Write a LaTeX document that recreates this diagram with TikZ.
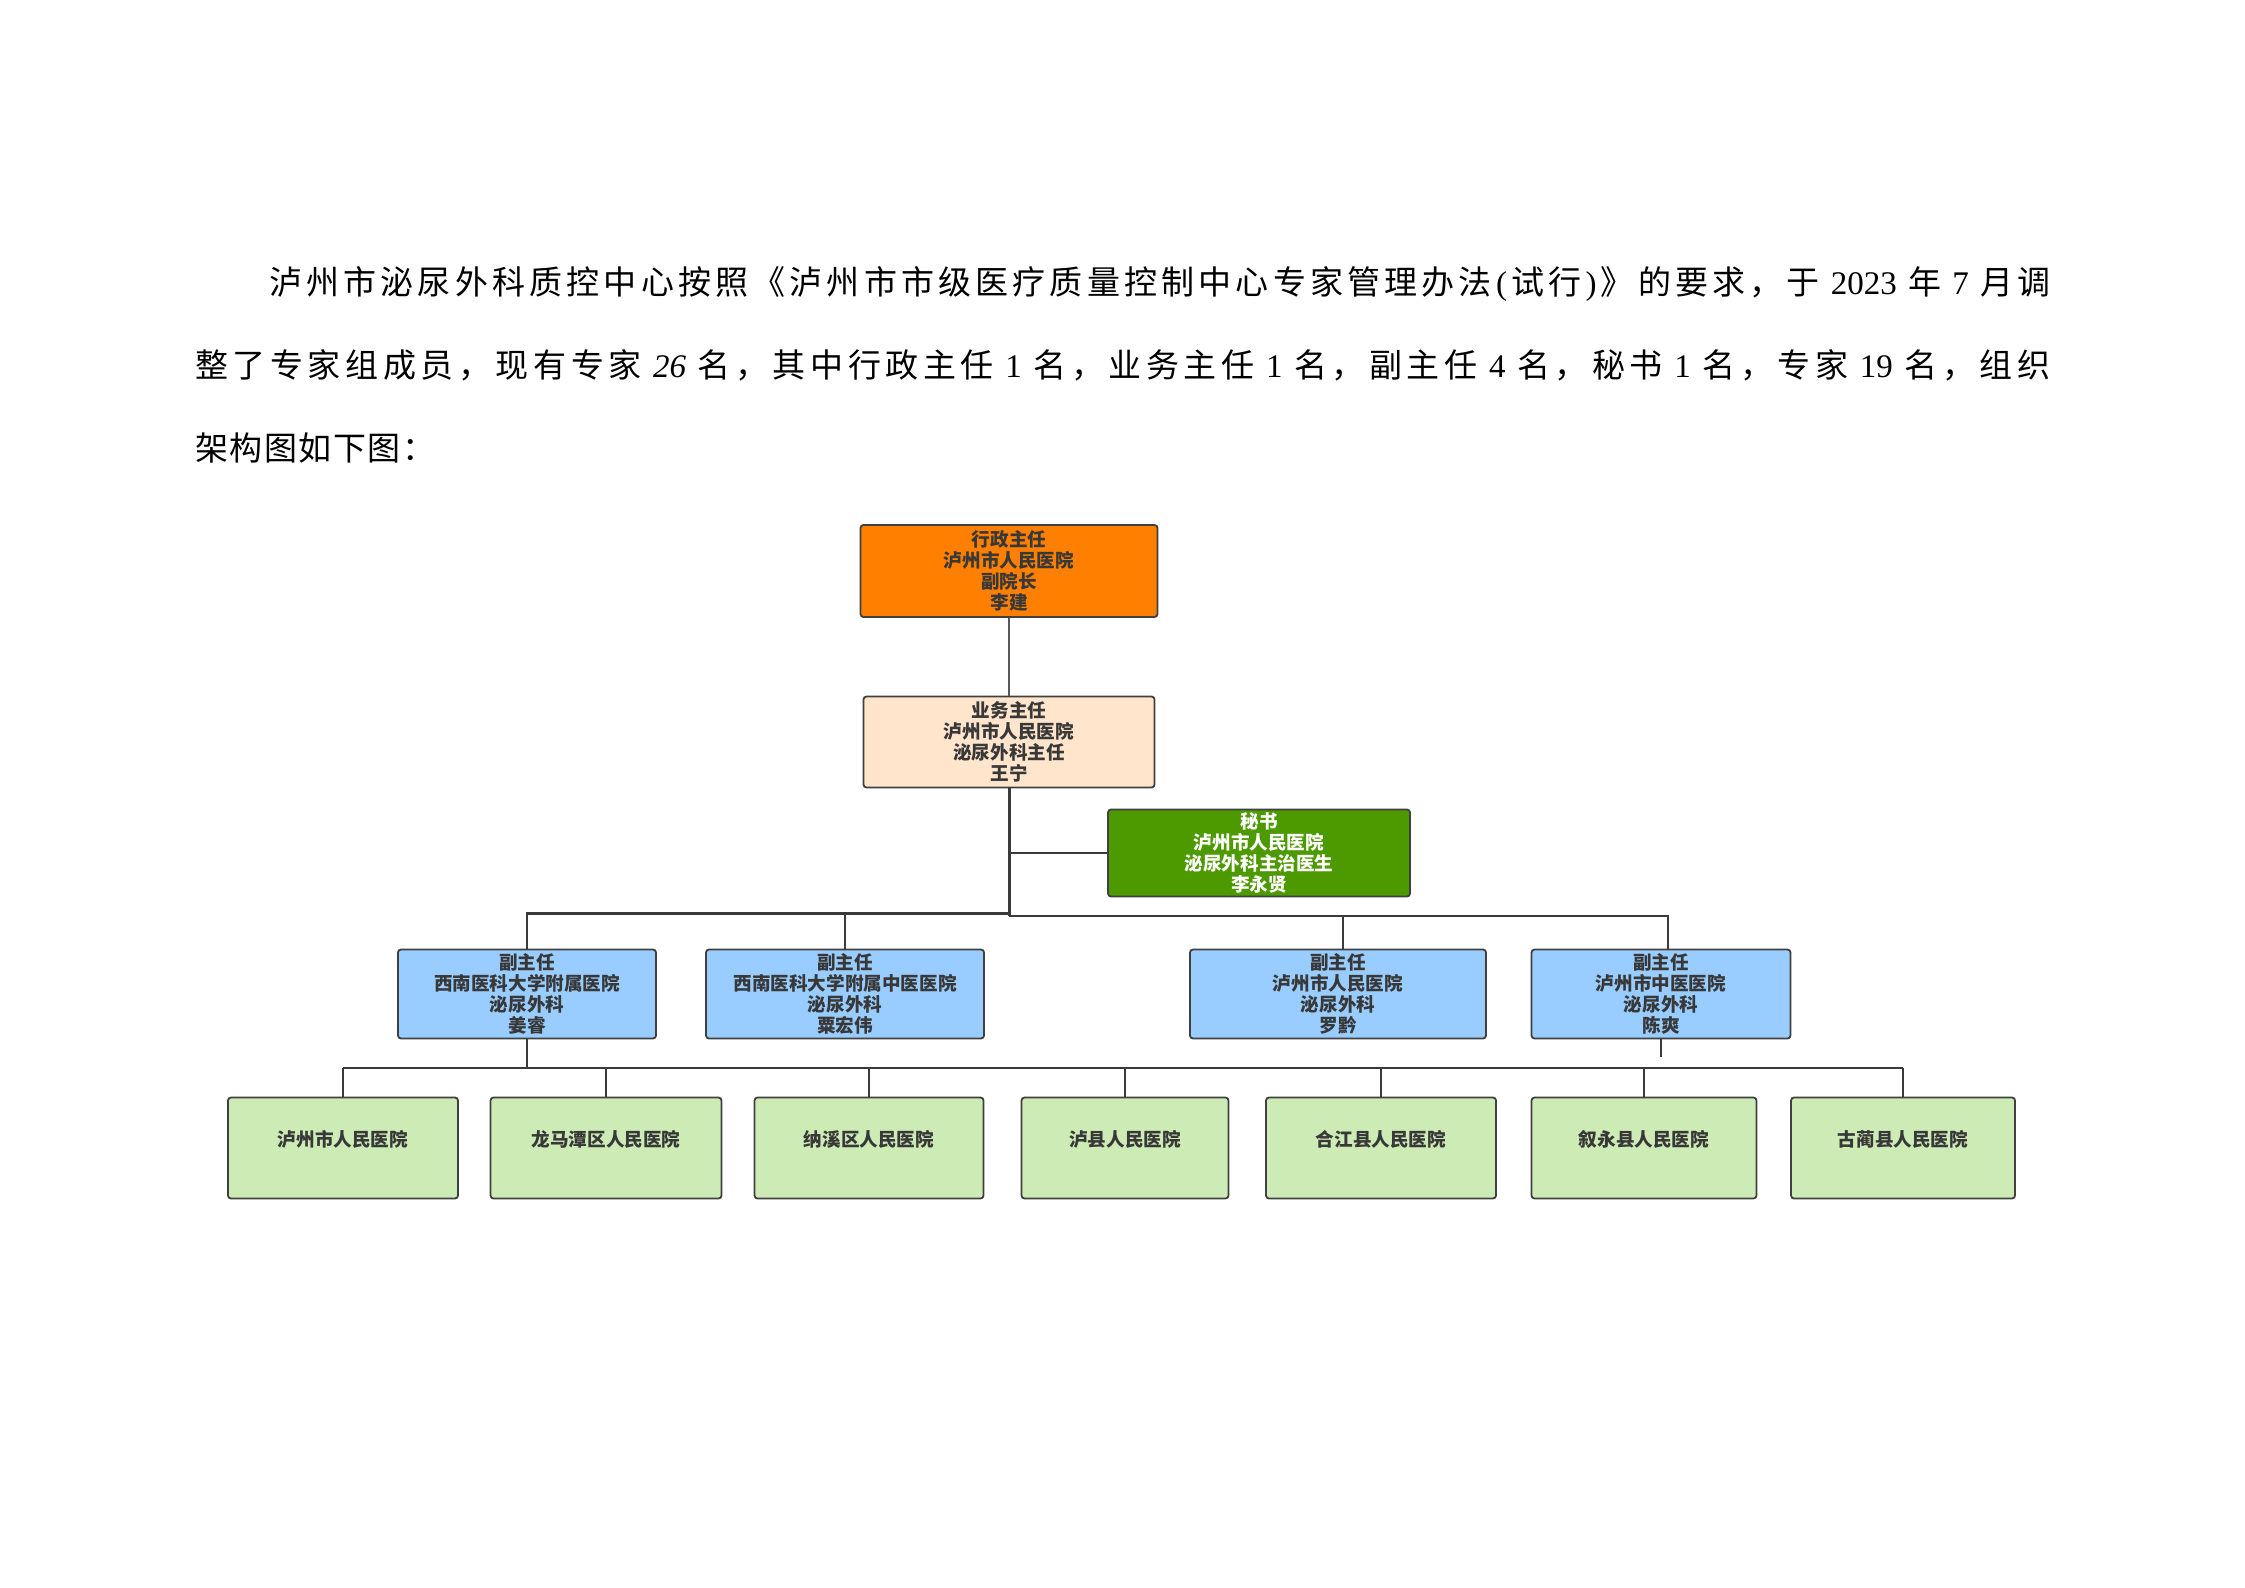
\documentclass[tikz,border=0pt]{standalone}
\usepackage{fontspec}
\setmainfont{Liberation Serif}
\newfontfamily\cjk{Noto Sans CJK SC}
\newfontfamily\lat{Liberation Serif}
\definecolor{orangec}{HTML}{FF8000}
\definecolor{peach}{HTML}{FFE5CC}
\definecolor{greenc}{HTML}{4D9900}
\definecolor{bluec}{HTML}{99CCFF}
\definecolor{hosp}{HTML}{CCEBB5}
\definecolor{boxline}{HTML}{404040}
\definecolor{boxtext}{HTML}{383838}
\definecolor{lineclr}{HTML}{3A3A3A}
\newcommand\boxfont{\cjk\bfseries\fontsize{18.6}{20.8}\selectfont}
\newcommand\parfont{\cjk\fontsize{33}{33}\selectfont}
\newcommand\spreadbox[2]{\hbox to #1{\spreadfirst#2\relax}}
\def\spreadfirst#1{{#1}\spreadnext}
\def\spreadnext#1{\ifx\relax#1\else\hfil{#1}\expandafter\spreadnext\fi}
\newcommand\num[1]{\kern7pt\lat #1\kern7pt}
\newcommand\boxtxt[2]{\raisebox{-8pt}{\parbox{#1}{\centering #2}}}
\tikzset{
  box/.style={draw=boxline, line width=1.8pt, rounded corners=3pt, inner sep=0pt,
    align=center, font=\boxfont, text=boxtext},
  conn/.style={draw=lineclr, line width=2.2pt},
  para/.style={anchor=base west, inner sep=0pt, font=\parfont, text=black},
}
\begin{document}
\begin{tikzpicture}[x=1pt,y=-1pt]
\useasboundingbox[fill=white] (0,0) rectangle (2245,1587);
% paragraph
\node[para] (p1) at (269,294) {\spreadbox{1781pt}{泸州市泌尿外科质控中心按照《泸州市市级医疗质量控制中心专家管理办法{\lat(}试行{\lat)}》的要求，于{\num{2023}}年{\num{7}}月调}};
\node[para] (p2) at (195,377) {\spreadbox{1855pt}{整了专家组成员，现有专家{\num{\itshape 26}}名，其中行政主任{\num{1}}名，业务主任{\num{1}}名，副主任{\num{4}}名，秘书{\num{1}}名，专家{\num{19}}名，组织}};
\node[para] (p3) at (195,460) {\spreadbox{240pt}{架构图如下图：}};
% boxes
\node[box, fill=orangec, minimum width=297pt, minimum height=92pt] (admin) at (1009,571) {\boxtxt{280pt}{行政主任\\泸州市人民医院\\副院长\\李建}};
\node[box, fill=peach, minimum width=291pt, minimum height=91pt] (biz) at (1009,742) {\boxtxt{280pt}{业务主任\\泸州市人民医院\\泌尿外科主任\\王宁}};
\node[box, fill=greenc, text=white, minimum width=302pt, minimum height=87pt] (sec) at (1259,853) {\boxtxt{280pt}{秘书\\泸州市人民医院\\泌尿外科主治医生\\李永贤}};
\node[box, fill=bluec, minimum width=258pt, minimum height=89pt] (d1) at (527,994) {\boxtxt{250pt}{副主任\\西南医科大学附属医院\\泌尿外科\\姜睿}};
\node[box, fill=bluec, minimum width=278pt, minimum height=89pt] (d2) at (845,994) {\boxtxt{270pt}{副主任\\西南医科大学附属中医医院\\泌尿外科\\粟宏伟}};
\node[box, fill=bluec, minimum width=296pt, minimum height=89pt] (d3) at (1338,994) {\boxtxt{280pt}{副主任\\泸州市人民医院\\泌尿外科\\罗黔}};
\node[box, fill=bluec, minimum width=259pt, minimum height=89pt] (d4) at (1661,994) {\boxtxt{250pt}{副主任\\泸州市中医医院\\泌尿外科\\陈爽}};
\tikzset{hbox/.style={box, fill=hosp, minimum height=101pt}}
\node[hbox, minimum width=230pt] (h1) at (343,1148) {\raisebox{19pt}{泸州市人民医院}};
\node[hbox, minimum width=231pt] (h2) at (606,1148) {\raisebox{19pt}{龙马潭区人民医院}};
\node[hbox, minimum width=229pt] (h3) at (869,1148) {\raisebox{19pt}{纳溪区人民医院}};
\node[hbox, minimum width=207pt] (h4) at (1125,1148) {\raisebox{19pt}{泸县人民医院}};
\node[hbox, minimum width=230pt] (h5) at (1381,1148) {\raisebox{19pt}{合江县人民医院}};
\node[hbox, minimum width=225pt] (h6) at (1644,1148) {\raisebox{19pt}{叙永县人民医院}};
\node[hbox, minimum width=224pt] (h7) at (1903,1148) {\raisebox{19pt}{古蔺县人民医院}};
% connectors
\coordinate (jl) at (1009,913.5);
\coordinate (jr) at (1009,916);
\coordinate (bb) at (527,1068);
\coordinate (stub) at (1661,1057);
\draw[draw=lineclr!85, line width=1.6pt] (admin.south) -- (biz.north);
\draw[conn, line width=3pt] (biz.south) -- (jr);
\draw[conn, line width=2.6pt] (biz.south |- sec.west) -- (sec.west);
\draw[conn] (d1.north) |- (jl);
\draw[conn] (d2.north) -- (d2.north |- jl);
\draw[conn] (jr) -| ([xshift=7pt]d4.north);
\draw[conn] ([xshift=5pt]d3.north) -- ([xshift=5pt]d3.north |- jr);
\draw[conn] (d1.south) -- (bb);
\draw[conn] (h1.north |- bb) -- (h7.north |- bb);
\foreach \h in {h1,h2,h3,h4,h5,h6,h7} \draw[conn] (\h.north) -- (\h.north |- bb);
\draw[conn] (d4.south) -- (stub);
\end{tikzpicture}
\end{document}
